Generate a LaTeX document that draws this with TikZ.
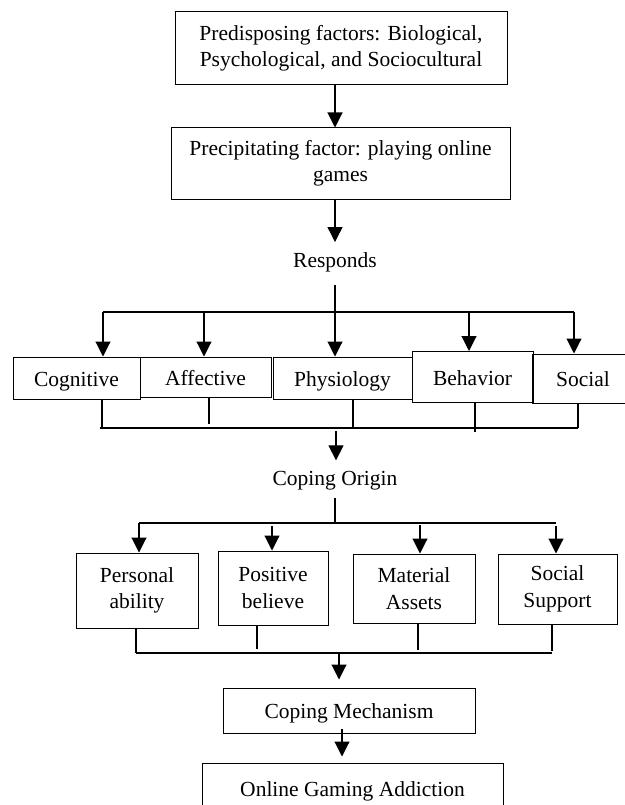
\documentclass[tikz,border=0pt]{standalone}
\usepackage{fontspec}
\setmainfont{Liberation Serif}
\usetikzlibrary{arrows.meta}

\begin{document}
\begin{tikzpicture}[x=1pt, y=-1pt,
    box/.style={draw, line width=1pt, align=center, inner sep=0pt,
      font=\fontsize{21.5}{26.5}\selectfont},
    rbox/.style={box, text height=17pt, text depth=1pt},
    lbl/.style={inner sep=0pt, font=\fontsize{21.5}{26.5}\selectfont},
    arr/.style={-{Triangle[width=15pt,length=15pt]}, line width=1.1pt},
    ln/.style={line width=1.1pt}]
  \useasboundingbox (0,0) rectangle (624,805);

  % top boxes
  \node[box, minimum width=332pt, minimum height=73pt] (pre) at (341,48.5)
    {Predisposing factors: Biological,\\Psychological, and Sociocultural};
  \node[box, minimum width=339pt, minimum height=71pt] (prec) at (340.5,163.5)
    {Precipitating factor: playing online\\games};
  \node[lbl] (resp) at (335,262) {Responds};

  % responds
  \node[rbox, minimum width=127pt, minimum height=42pt] (cog) at (76.5,378) {Cognitive};
  \node[rbox, minimum width=131pt, minimum height=40pt] (aff) at (205.5,377) {Affective};
  \node[rbox, minimum width=139pt, minimum height=42pt] (phy) at (342.5,378) {Physiology};
  \node[rbox, minimum width=121pt, minimum height=51pt] (beh) at (472.5,377) {Behavior};
  \node[rbox, minimum width=102pt, minimum height=49pt] (soc) at (583,378.5) {Social};
  \node[lbl] (orig) at (335,481) {Coping Origin};

  % coping origin
  \node[box, minimum width=122pt, minimum height=75pt] (per) at (137,590.5) {Personal\\ability};
  \node[box, minimum width=110pt, minimum height=74pt] (pos) at (273,588) {Positive\\believe};
  \node[box, minimum width=122pt, minimum height=69pt] (mat) at (414,588.5) {Material\\Assets};
  \node[box, minimum width=119pt, minimum height=70pt] (sup) at (557.5,589) {Social\\Support};

  \node[rbox, minimum width=252pt, minimum height=45pt] (mech) at (349,710.5) {Coping Mechanism};
  \node[rbox, minimum width=301pt, minimum height=50pt] (add) at (352.5,788) {Online Gaming Addiction};

  % arrows down the middle
  \draw[arr] (pre.south -| resp) -- (prec.north -| resp);
  \draw[arr, shorten >=10pt] (prec.south -| resp) -- (resp.north);

  % responds tier
  \foreach \n/\x in {cog/103,aff/204,phy/335,beh/469,soc/574}{
    \coordinate (t-\n) at (\x,312);
    \draw[arr] (t-\n) -- (t-\n |- \n.north);
  }
  \draw[ln] (t-cog) -- (t-soc);
  \draw[ln, shorten <=13pt] (resp.south) -- (t-phy);

  \foreach \n/\x/\e in {cog/102/428,aff/209/424,phy/353/428,beh/475/432,soc/578/428}{
    \coordinate (b-\n) at (\x,\e);
    \draw[ln] (\n.south -| b-\n) -- (b-\n);
  }
  \coordinate (bl1) at (99.5,428);
  \draw[ln] (bl1) -- (b-soc);
  \coordinate (d1) at (336,431);
  \draw[arr, shorten >=11pt] (d1) -- (d1 |- orig.north);

  % coping origin tier
  \coordinate (c-bus) at (335,523);
  \draw[ln, shorten <=7pt] (orig.south) -- (c-bus);
  \foreach \n/\x/\s in {per/139/523,pos/272/526,mat/420/525,sup/556/526}{
    \coordinate (t-\n) at (\x,\s);
    \draw[arr] (t-\n) -- (t-\n |- \n.north);
  }
  \draw[ln] (t-per) -- (t-per -| t-sup);

  \foreach \n/\x/\e in {per/136/653,pos/257/649,mat/418/650,sup/552/651}{
    \coordinate (b-\n) at (\x,\e);
    \draw[ln] (\n.south -| b-\n) -- (b-\n);
  }
  \draw[ln] (b-per) -- (b-per -| b-sup);
  \coordinate (d2) at (339,652);
  \draw[arr, shorten >=8pt] (d2) -- (d2 |- mech.north);

  \coordinate (d3) at (342,729);
  \draw[arr, shorten >=6pt] (d3) -- (d3 |- add.north);
\end{tikzpicture}
\end{document}
